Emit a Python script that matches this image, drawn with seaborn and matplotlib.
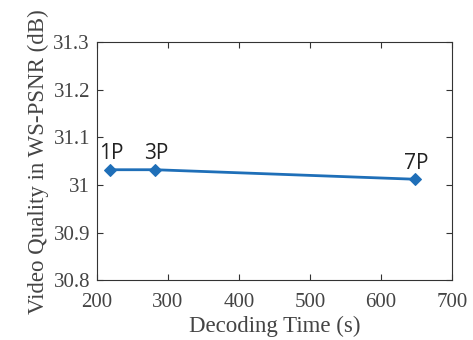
#!/usr/bin/env python3
"""Video quality vs decoding time."""

import matplotlib
matplotlib.use("Agg")
import matplotlib.pyplot as plt
import pandas as pd
import seaborn as sns

decoding_time = [218, 282, 648]
ws_psnr = [31.032, 31.032, 31.012]
point_labels = ["1P", "3P", "7P"]

x_ticks = [200, 300, 400, 500, 600, 700]
y_ticks = [30.8, 30.9, 31.0, 31.1, 31.2, 31.3]
y_tick_labels = ["30.8", "30.9", "31", "31.1", "31.2", "31.3"]

df = pd.DataFrame({"time": decoding_time, "psnr": ws_psnr, "label": point_labels})

sns.set_style("white")
plt.rcParams["font.family"] = ["Liberation Serif", "DejaVu Serif"]

fig = plt.figure(figsize=(4.73, 3.40), dpi=100)
ax = fig.add_axes([0.205, 0.176, 0.751, 0.700])

sns.lineplot(
    data=df, x="time", y="psnr", ax=ax,
    color="#1f6fb8", linewidth=2, marker="D", markersize=6,
    markeredgecolor="#1f6fb8",
)

for _, row in df.iterrows():
    ax.annotate(
        row["label"], xy=(row["time"], row["psnr"]),
        xytext=(1, 4), textcoords="offset points",
        ha="center", va="bottom", fontsize=15, color="#222222",
        family=["Open Sans", "DejaVu Sans"],
    )

ax.set_xlim(200, 700)
ax.set_ylim(30.8, 31.3)
ax.set_xticks(x_ticks)
ax.set_yticks(y_ticks)
ax.set_yticklabels(y_tick_labels)
ax.set_xlabel("Decoding Time (s)", fontsize=16.5, color="#444444", labelpad=3)
ax.set_ylabel("Video Quality in WS-PSNR (dB)", fontsize=16.5, color="#444444", labelpad=3)
ax.tick_params(direction="in", bottom=True, left=True, top=True, right=True,
               length=4, width=0.8, labelsize=15, labelcolor="#444444",
               color="#333333", pad=5)
ax.tick_params(axis="x", pad=9)
for side in ax.spines.values():
    side.set_color("#333333")
    side.set_linewidth(0.8)

fig.savefig("out.png", dpi=100)
